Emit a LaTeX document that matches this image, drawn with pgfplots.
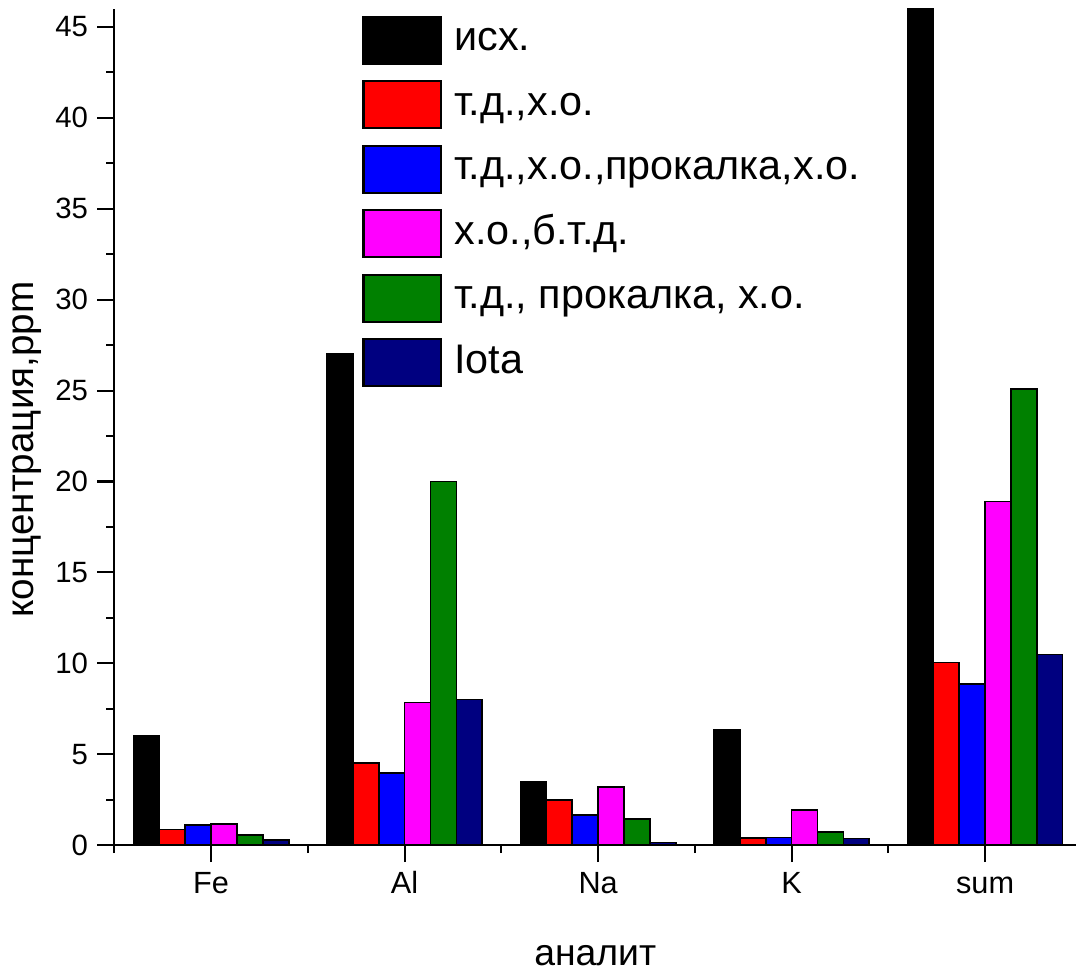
\documentclass[border=0pt]{standalone}
\usepackage{fontspec}
\setmainfont{Liberation Sans}
\usepackage{pgfplots}
\pgfplotsset{compat=1.18}
\definecolor{cnavy}{RGB}{0,0,128}
\definecolor{cgreen}{RGB}{0,128,0}
\definecolor{cmag}{RGB}{255,0,255}
\definecolor{cred}{RGB}{255,0,0}
\definecolor{cblue}{RGB}{0,0,255}
\begin{document}
\begin{tikzpicture}
\begin{axis}[
  scale only axis,
  width=360.6pt, height=313.6pt,
  xmin=-0.5, xmax=4.47, ymin=0, ymax=46,
  ybar=0pt, bar width=9.7pt,
  legend image code/.code={\draw[#1,line width=0.8pt] (0pt,-8.8pt) rectangle (29.2pt,8.8pt);},
  axis x line*=bottom, axis y line*=left,
  axis line style={line width=0.8pt, black},
  tick align=outside,
  every tick/.style={black, line width=0.8pt},
  major tick length=6.4pt, minor tick length=3pt,
  xtick={0,1,2,3,4}, xticklabels={Fe,Al,Na,K,sum},
  minor xtick={-0.5,0.5,1.5,2.5,3.5,4.5},
  ytick={0,5,...,45}, minor ytick={2.5,7.5,...,42.5},
  /pgf/number format/assume math mode=true,
  tick label style={font=\fontsize{11}{13}\selectfont},
  xticklabel style={font=\fontsize{11.5}{13}\selectfont, text height=8.4pt, text depth=0pt},
  xlabel={аналит}, ylabel={концентрация,ppm},
  xlabel style={at={(rel axis cs:0.5,0)}, anchor=base, yshift=-45pt, inner sep=0pt, font=\fontsize{14}{17}\selectfont},
  ylabel style={at={(axis description cs:-0.0905,0.473)}, anchor=center, inner sep=0pt, font=\fontsize{14.5}{17}\selectfont},
  legend cell align=left,
  legend style={at={(rel axis cs:0.2574,0.9926)}, anchor=north west, draw=none, fill=none, inner sep=0pt,
    font=\fontsize{15.5}{18}\selectfont, row sep=5.8pt,
    nodes={inner sep=0pt, text height=11pt, text depth=3pt},
    /tikz/every odd column/.append style={column sep=4.5pt}},
]
\addplot[fill=black, draw=black, line width=0.6pt] coordinates {(0,6.0) (1,27.0) (2,3.5) (3,6.35) (4,46)};
\addplot[fill=cred, draw=black, line width=0.6pt] coordinates {(0,0.86) (1,4.5) (2,2.47) (3,0.4) (4,10.04)};
\addplot[fill=cblue, draw=black, line width=0.6pt] coordinates {(0,1.1) (1,3.95) (2,1.65) (3,0.42) (4,8.85)};
\addplot[fill=cmag, draw=black, line width=0.6pt] coordinates {(0,1.17) (1,7.85) (2,3.2) (3,1.92) (4,18.9)};
\addplot[fill=cgreen, draw=black, line width=0.6pt] coordinates {(0,0.55) (1,20.0) (2,1.43) (3,0.73) (4,25.1)};
\addplot[fill=cnavy, draw=black, line width=0.6pt] coordinates {(0,0.27) (1,8.0) (2,0.15) (3,0.37) (4,10.48)};
\legend{исх.,{т.д.,х.о.},{т.д.,х.о.,прокалка,х.о.},{х.о.,б.т.д.},{т.д., прокалка, х.о.},Iota}
\coordinate (O) at (rel axis cs:0,0);
\coordinate (T) at (rel axis cs:1,1);
\end{axis}
\pgfresetboundingbox
\path[use as bounding box] ([xshift=-42.9pt,yshift=-47.25pt]O) rectangle ([yshift=3.3pt]T);
\end{tikzpicture}
\end{document}
